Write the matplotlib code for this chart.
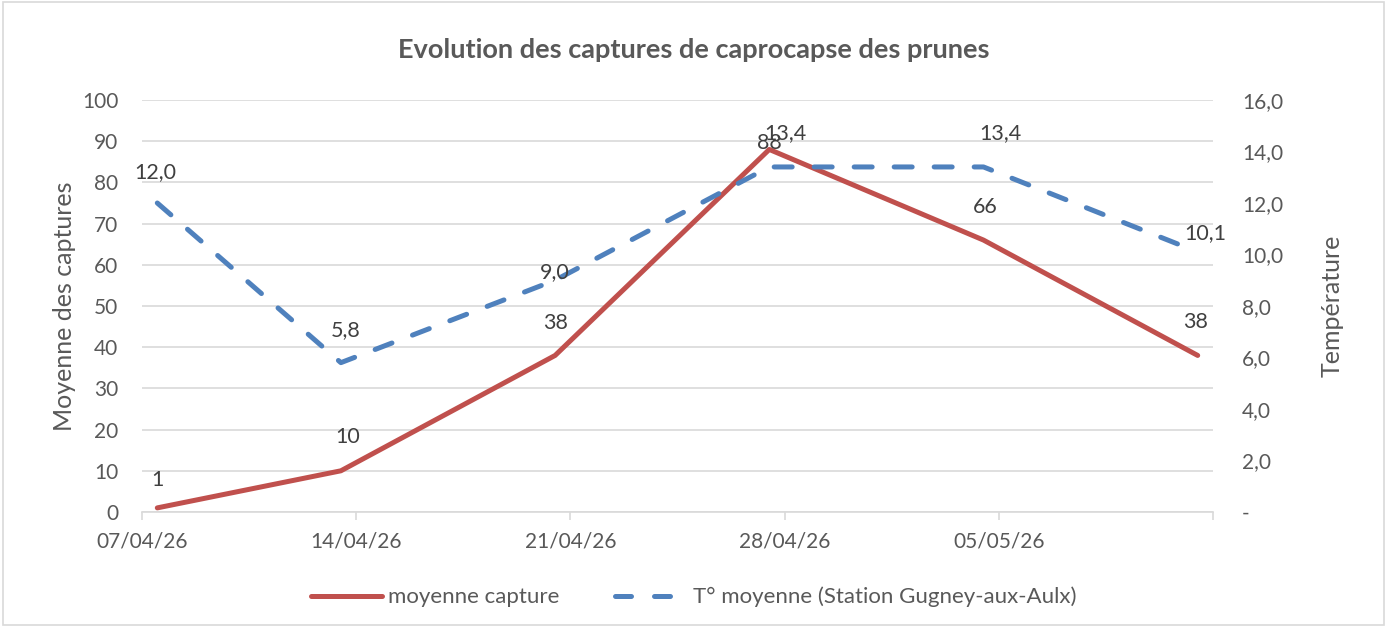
import numpy as np
import pandas as pd
import matplotlib
matplotlib.use('Agg')
import matplotlib.pyplot as plt
from matplotlib.patches import Rectangle

plt.rcParams['font.family'] = ['Lato', 'DejaVu Sans']

# data
dates = ['2026-04-07', '2026-04-13', '2026-04-20', '2026-04-27', '2026-05-04', '2026-05-11']
captures = [1, 10, 38, 88, 66, 38]
temperature = [12.0, 5.8, 9.0, 13.4, 13.4, 10.1]
tick_dates = ['2026-04-07', '2026-04-14', '2026-04-21', '2026-04-28', '2026-05-05', '2026-05-12']
tick_labels = ['07/04/26', '14/04/26', '21/04/26', '28/04/26', '05/05/26', '']

# label offsets in pixels (x, y), label centred
cap_off = [(0, 28), (7, 34), (0, 32), (0, 6), (2, 33), (-2, 33)]
temp_off = [(-2, 31), (5, 33), (0, 8), (16, 34), (17, 34), (8, 19)]

red = '#C0504D'
blue = '#4F81BD'
grey = '#595959'
lab = '#404040'

x = pd.to_datetime(dates) + pd.Timedelta(hours=12)

fig = plt.figure(figsize=(13.87, 6.27), dpi=100)
ax = fig.add_axes([142/1387, 1 - 512/627, (1213-142)/1387, 412/627])
ax2 = ax.twinx()

ax.plot(x, captures, color=red, lw=3.6, solid_capstyle='round', solid_joinstyle='round', zorder=3)
ax2.plot(x, temperature, color=blue, lw=3.6, dashes=(3.6, 4.4), dash_capstyle='round', zorder=3)

for xi, v, off in zip(x, captures, cap_off):
    ax.annotate(str(v), (xi, v), xytext=off, textcoords='offset pixels',
                ha='center', va='center', fontsize=15.5, color=lab)
for xi, v, off in zip(x, temperature, temp_off):
    ax2.annotate(f'{v:.1f}'.replace('.', ','), (xi, v), xytext=off, textcoords='offset pixels',
                 ha='center', va='center', fontsize=15.5, color=lab)

ax.set_xlim(pd.Timestamp('2026-04-07'), pd.Timestamp('2026-05-12'))
ax.set_ylim(0, 100)
ax2.set_ylim(0, 16)
ax.set_yticks(np.arange(0, 101, 10))
ax2.set_yticks(np.arange(0, 17, 2))
ax2.set_yticklabels(['-'] + [f'{v:.1f}'.replace('.', ',') for v in np.arange(2, 17, 2)])
ax.set_xticks(pd.to_datetime(tick_dates))
ax.set_xticklabels(tick_labels)

ax.grid(axis='y', color='#D9D9D9', lw=1.2)
ax.set_axisbelow(True)
for a in (ax, ax2):
    for s in a.spines.values():
        s.set_visible(False)
    a.tick_params(axis='y', length=0, labelsize=15, labelcolor=grey)
ax.spines['bottom'].set_visible(True)
ax.spines['bottom'].set_color('#D9D9D9')
ax.spines['bottom'].set_linewidth(1.2)
ax.tick_params(axis='x', length=6, width=1.2, color='#D9D9D9', labelsize=15, labelcolor=grey, pad=8)
ax.tick_params(axis='y', pad=17)
ax2.tick_params(axis='y', pad=21)

ax.set_ylabel('Moyenne des captures', fontsize=18, color=grey, labelpad=4)
ax2.set_ylabel('Température', fontsize=18, color=grey, labelpad=27)

fig.text(0.5, 1 - 50/627, 'Evolution des captures de caprocapse des prunes', ha='center', va='center',
         fontsize=19.5, fontweight='bold', color=grey)

h1, = ax.plot([], [], color=red, lw=3.6, solid_capstyle='round')
h2, = ax.plot([], [], color=blue, lw=3.6, dashes=(3.2, 4.6), dash_capstyle='round')
fig.legend([h1, h2], ['moyenne capture', 'T° moyenne (Station Gugney-aux-Aulx)'], loc='center',
           bbox_to_anchor=(0.5, 1 - 597/627), ncol=2, frameon=False, fontsize=16,
           labelcolor=grey, handlelength=3.2, columnspacing=2.5, handletextpad=0.3)

fig.patches.append(Rectangle((0.002, 0.003), 0.996, 0.994, transform=fig.transFigure,
                             fill=False, edgecolor='#D9D9D9', lw=1.2))

fig.savefig('out.png', dpi=100)
